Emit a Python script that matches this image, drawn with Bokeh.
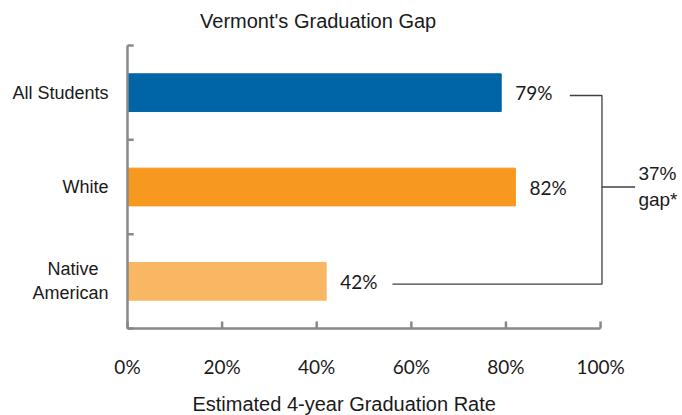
from bokeh.plotting import figure
from bokeh.models import Range1d, ColumnDataSource, LabelSet, Label, FixedTicker
from bokeh.core.properties import value
from bokeh.embed import file_html
from bokeh.resources import INLINE

# ---- data ----
categories = ["All Students", "White", "Native American"]
category_labels = ["All Students", "White", "Native\u00a0\u00a0\nAmerican"]
rates = [79, 82, 42]
bar_colors = ["#0065A5", "#F7981F", "#F9B764"]
x_ticks = [0, 20, 40, 60, 80, 100]
x_tick_labels = ["0%", "20%", "40%", "60%", "80%", "100%"]
title_text = "Vermont's Graduation Gap"
x_title = "Estimated 4-year Graduation Rate"
gap_value = rates[0] - rates[2]
gap_lines = [f"{gap_value}%", "gap*"]

AXIS_C = "#898989"
ARIAL = "Liberation Sans"
CAL = "Lato"
TXT = "#1a1a1a"

n = len(categories)
ypos = [n - 0.5 - i for i in range(n)]  # 2.5, 1.5, 0.5

p = figure(width=680, height=415, output_backend="svg", toolbar_location=None,
           x_range=Range1d(-3.17, 116.9), y_range=Range1d(-0.922, 3.477),
           min_border_left=112, min_border_right=0, min_border_top=0, min_border_bottom=0)
p.outline_line_color = None
p.grid.grid_line_color = None
p.background_fill_color = "white"

# bars
src = ColumnDataSource(dict(y=ypos, right=rates, color=bar_colors,
                            label=[f"{r}%" for r in rates]))
p.hbar(y="y", left=0, right="right", height=0.40, color="color", source=src)

# value labels
p.add_layout(LabelSet(x="right", y="y", text="label", source=src, x_offset=14,
                      text_align="left", text_baseline="middle",
                      text_font=value(CAL), text_font_size="19px", text_color=TXT))

# axes lines (segments so they stop at 0..100 / 0..n)
p.segment(x0=[0], y0=[0], x1=[0], y1=[n], line_color=AXIS_C, line_width=2.5)
p.segment(x0=[0], y0=[0], x1=[100], y1=[0], line_color=AXIS_C, line_width=2.5)
# x ticks (pointing up)
p.segment(x0=x_ticks, y0=[0] * len(x_ticks), x1=x_ticks, y1=[0.075] * len(x_ticks),
          line_color=AXIS_C, line_width=2.5)
# y ticks at category boundaries (pointing right)
bounds = list(range(n + 1))
p.segment(x0=[0] * len(bounds), y0=bounds, x1=[1.3] * len(bounds), y1=bounds,
          line_color=AXIS_C, line_width=2.5)

xa = p.xaxis[0]
xa.fixed_location = 0
xa.ticker = FixedTicker(ticks=x_ticks)
xa.major_label_overrides = {t: l for t, l in zip(x_ticks, x_tick_labels)}
xa.axis_line_color = None
xa.major_tick_line_color = None
xa.minor_tick_line_color = None
xa.major_label_standoff = 20
xa.major_label_text_font = CAL
xa.major_label_text_font_size = "19px"
xa.major_label_text_color = TXT

ya = p.yaxis[0]
ya.ticker = FixedTicker(ticks=ypos)
ya.major_label_overrides = {y: l for y, l in zip(ypos, category_labels)}
ya.axis_line_color = None
ya.major_tick_line_color = None
ya.minor_tick_line_color = None
ya.major_label_standoff = -2
ya.major_label_text_font = ARIAL
ya.major_label_text_font_size = "18px"
ya.major_label_text_color = TXT

# gap bracket
bx = 100.3
p.line(x=[rates[0] + 14.5, bx, bx, rates[2] + 14],
       y=[ypos[0] - 0.03, ypos[0] - 0.03, ypos[2] - 0.03, ypos[2] - 0.03],
       line_color="#404040", line_width=1.3)
p.segment(x0=[bx], y0=[ypos[1]], x1=[bx + 7], y1=[ypos[1]], line_color="#404040", line_width=1.3)
p.add_layout(Label(x=108.0, y=1.64, text=gap_lines[0], text_align="left",
                   text_baseline="middle", text_font=ARIAL, text_font_size="19px",
                   text_color=TXT))
p.add_layout(Label(x=108.0, y=1.37, text=gap_lines[1], text_align="left",
                   text_baseline="middle", text_font=ARIAL, text_font_size="19px",
                   text_color=TXT))

# title and x axis title
p.add_layout(Label(x=40.3, y=3.265, text=title_text, text_align="center", text_baseline="middle",
                   text_font=ARIAL, text_font_size="20px", text_color=TXT))
p.add_layout(Label(x=45.8, y=-0.80, text=x_title, text_align="center", text_baseline="middle",
                   text_font=ARIAL, text_font_size="20px", text_color=TXT))

open("out.html", "w").write(file_html(p, INLINE))
